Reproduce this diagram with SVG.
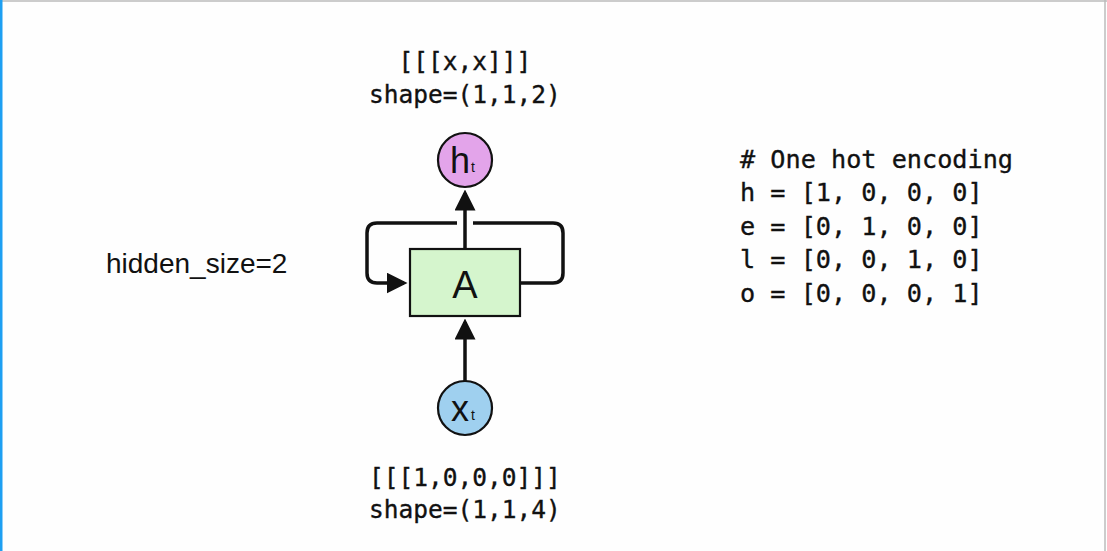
<svg xmlns="http://www.w3.org/2000/svg" width="1107" height="551" viewBox="0 0 1107 551">
<defs>
<style>
.mono{font-family:"DejaVu Sans Mono","Liberation Mono",monospace;font-size:24.5px;fill:#111;stroke:#111;stroke-width:0.35}
.code{font-family:"DejaVu Sans Mono","Liberation Mono",monospace;font-size:25.2px;fill:#111;stroke:#111;stroke-width:0.35}
.sans{font-family:"Liberation Sans",Arial,sans-serif;fill:#111}
.node{stroke:#111;stroke-width:2.2}
.conn{fill:none;stroke:#111;stroke-width:3.5;stroke-linejoin:round}
</style>
<marker id="arr" markerWidth="6" markerHeight="6" refX="5" refY="3" orient="auto" markerUnits="strokeWidth">
<path d="M0,0 L6,3 L0,6 Z" fill="#111"/>
</marker>
</defs>
<rect width="1107" height="551" fill="#fefefe"/>
<line x1="0" y1="1" x2="1107" y2="1" stroke="#bbb" stroke-width="1.5"/>
<line x1="1105" y1="0" x2="1105" y2="551" stroke="#bbb" stroke-width="1.5"/>
<rect x="0" y="0" width="2.5" height="551" fill="#1e9ff2"/>

<g id="connectors">
<path class="conn" d="M465,250 L465,193" marker-end="url(#arr)"/>
<path class="conn" d="M465,381 L465,322" marker-end="url(#arr)"/>
<path class="conn" d="M520,283 L553,283 Q563,283 563,273 L563,233 Q563,223 553,223 L473,223"/>
<path class="conn" d="M457,223 L377,223 Q367,223 367,233 L367,273 Q367,283 377,283 L404,283" marker-end="url(#arr)"/>
</g>

<g id="node-h">
<circle class="node" cx="465" cy="160" r="27" fill="#e3a4ea"/>
<text class="sans" x="450" y="173" font-size="36">h</text>
<text class="sans" x="471" y="172" font-size="14">t</text>
</g>

<g id="node-A">
<rect class="node" x="410" y="249" width="110" height="67" fill="#d5f5cd" stroke="#333"/>
<text class="sans" x="465" y="298" font-size="38" text-anchor="middle">A</text>
</g>

<g id="node-x">
<circle class="node" cx="465" cy="408" r="27" fill="#9fd0ef"/>
<text class="sans" x="451" y="421" font-size="36">x</text>
<text class="sans" x="471" y="420" font-size="14">t</text>
</g>

<g id="label-top">
<text class="mono" x="465" y="70" text-anchor="middle">[[[x,x]]]</text>
<text class="mono" x="465" y="103" text-anchor="middle">shape=(1,1,2)</text>
</g>

<g id="label-bottom">
<text class="mono" x="465" y="486" text-anchor="middle">[[[1,0,0,0]]]</text>
<text class="mono" x="465" y="518" text-anchor="middle">shape=(1,1,4)</text>
</g>

<g id="label-hidden">
<text class="sans" x="106" y="273" font-size="28">hidden_size=2</text>
</g>

<g id="code">
<text class="code" x="740" y="168">
<tspan x="740" y="168"># One hot encoding</tspan>
<tspan x="740" y="201">h = [1, 0, 0, 0]</tspan>
<tspan x="740" y="235">e = [0, 1, 0, 0]</tspan>
<tspan x="740" y="268">l = [0, 0, 1, 0]</tspan>
<tspan x="740" y="302">o = [0, 0, 0, 1]</tspan>
</text>
</g>
</svg>
